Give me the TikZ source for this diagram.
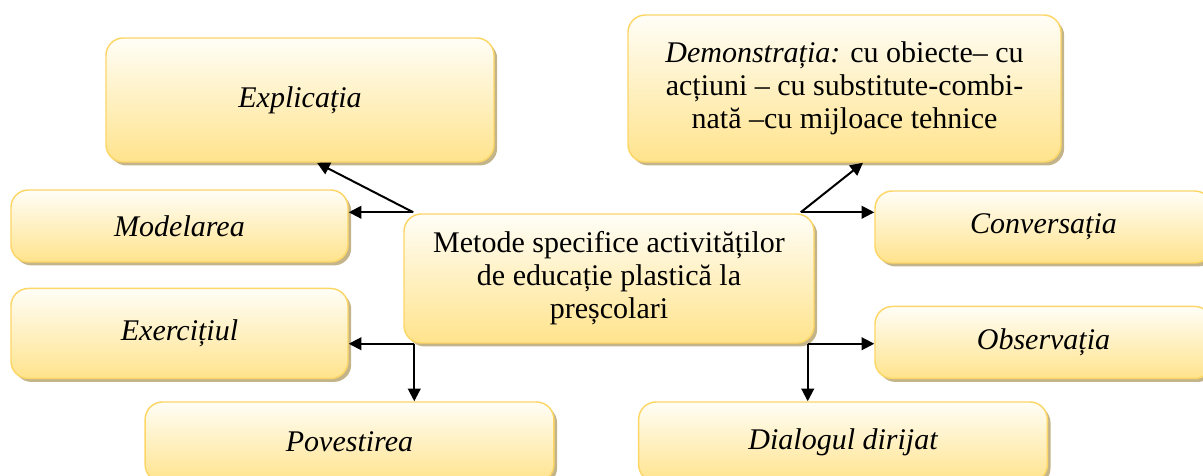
\documentclass[tikz,border=0pt]{standalone}
\usepackage{fontspec}
\setmainfont{Liberation Serif}
\usepackage{tikz}
\usetikzlibrary{calc, arrows.meta, positioning, shadows}

\definecolor{boxtop}{HTML}{FFFEF7}
\definecolor{boxbot}{HTML}{FFE38C}
\definecolor{boxline}{HTML}{FCD667}
\definecolor{shadowtan}{HTML}{C4B48A}

\begin{document}
\begin{tikzpicture}[
        x=0.75pt, y=-0.75pt,
        method/.style={rectangle, rounded corners=13pt, draw=boxline, line width=1.1pt,
            top color=boxtop, bottom color=boxbot, inner sep=0pt, align=center,
            drop shadow={shadow xshift=2.4pt, shadow yshift=-2.6pt, fill=shadowtan, opacity=1},
            font=\fontsize{22.5}{24.75}\selectfont},
        small/.style={method, minimum width=252.75pt, minimum height=54pt, font=\fontsize{22.5}{24.75}\selectfont\itshape},
        wide/.style={method, minimum width=306.5pt, minimum height=60pt, font=\fontsize{22.5}{24.75}\selectfont\itshape},
        arrow/.style={-{Triangle[length=9.5pt, width=9.5pt]}, line width=1.5pt}
    ]
        \useasboundingbox (0,0) rectangle (1203,475);

        % Nodes
        \node[method, minimum width=307.5pt, minimum height=96.75pt] (core) at (609,278.5)
            {Metode specifice activităților\\de educație plastică la\\preșcolari};

        \node[method, minimum width=291pt, minimum height=93pt, font=\fontsize{22.5}{24.75}\selectfont\itshape] (expl) at (300,100) {Explicația};
        \node[method, minimum width=324.75pt, minimum height=110.25pt] (demo) at (844.5,88.5)
            {\textit{Demonstrația:} cu obiecte– cu\\acțiuni – cu substitute-combi-\\nată –cu mijloace tehnice};

        \node[small] (model) at (179.5,226) {Modelarea};
        \node[small, minimum height=67.5pt, below=18.75pt of model] (exer) {Exercițiul};

        \node[small] (conv) at (1043.5,227) {Conversația};
        \node[small, below=31.5pt of conv] (obs) {Observația};

        \node[wide] (pov) at (349.5,442) {Povestirea};
        \node[wide] (dial) at (843,442) {Dialogul dirijat};

        % Arrow start points on the central box
        \coordinate (tl) at ($(core.north west)+(10,-1)$);
        \coordinate (tr) at ($(core.north east)+(-14,-1)$);
        \coordinate (bl) at ($(core.south west)+(11,0)$);
        \coordinate (br) at ($(core.south east)+(-7,0)$);

        % Arrows
        \draw[arrow] (tl) -- ($(expl.south)+(17,0)$);
        \draw[arrow] (tl) -- (tl -| model.east);
        \draw[arrow] (tr) -- ($(demo.south)+(18.5,0)$);
        \draw[arrow] (tr) -- (tr -| conv.west);

        \draw[arrow] (bl) -- (bl -| exer.east);
        \draw[arrow] (bl) -- (bl |- pov.north);
        \draw[arrow] (br) -- (br -| obs.west);
        \draw[arrow] (br) -- (br |- dial.north);
    \end{tikzpicture}
\end{document}
